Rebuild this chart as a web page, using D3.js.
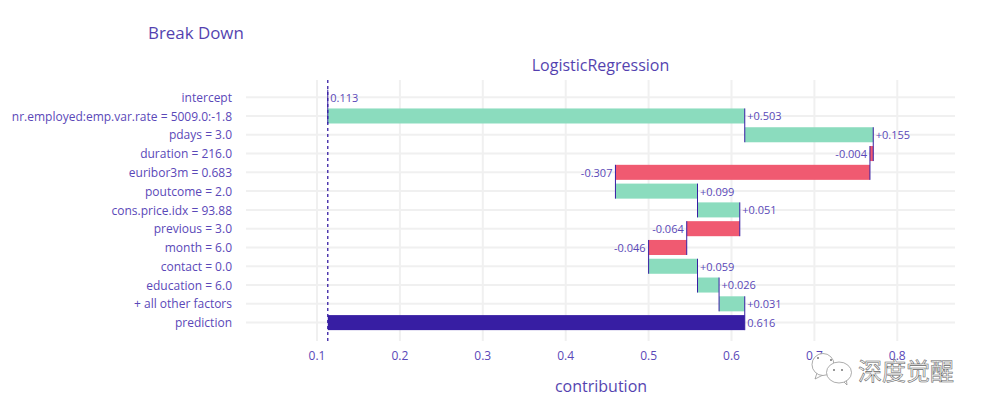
<!DOCTYPE html>
<html><head><meta charset="utf-8">
<script src="https://cdn.jsdelivr.net/npm/d3@7/dist/d3.min.js"></script>
<style>html,body{margin:0;padding:0;background:#fff}svg{display:block}text{font-family:"Open Sans",sans-serif}</style>
</head><body><svg id="c" width="985" height="413"></svg>
<script>
const categories=["intercept","nr.employed:emp.var.rate = 5009.0:-1.8","pdays = 3.0","duration = 216.0","euribor3m = 0.683","poutcome = 2.0","cons.price.idx = 93.88","previous = 3.0","month = 6.0","contact = 0.0","education = 6.0","+ all other factors","prediction"];
const starts=[0.113,0.113,0.616,0.771,0.767,0.46,0.559,0.61,0.546,0.5,0.559,0.585,0.113];
const ends=[0.113,0.616,0.771,0.767,0.46,0.559,0.61,0.546,0.5,0.559,0.585,0.616,0.616];
const labels=["0.113","+0.503","+0.155","-0.004","-0.307","+0.099","+0.051","-0.064","-0.046","+0.059","+0.026","+0.031","0.616"];
const xTicks=[0.1,0.2,0.3,0.4,0.5,0.6,0.7,0.8];
const baseline=0.113;
const ink="#371ea3", tickInk="#5a48b8", grid="#f0f0f0";
const svg=d3.select("#c");
const x=d3.scaleLinear().domain([0.1,0.8]).range([317,897.3]);
const y=d3.scaleBand().domain(categories).range([87.8,332]).paddingInner(0.2).paddingOuter(0.1);
const cy=d=>y(d)+y.bandwidth()/2;
const plotL=246,plotR=955,plotT=80,plotB=341;
const gx=svg.append("g");
gx.selectAll("line").data(xTicks).join("line").attr("x1",x).attr("x2",x).attr("y1",plotT).attr("y2",plotB).attr("stroke",grid).attr("stroke-width",2);
gx.selectAll("text").data(xTicks).join("text").attr("x",x).attr("y",360).attr("text-anchor","middle").attr("font-size",12).attr("fill",tickInk).text(d=>d3.format(".1f")(d));
const gy=svg.append("g");
gy.selectAll("line").data(categories).join("line").attr("x1",plotL).attr("x2",plotR).attr("y1",cy).attr("y2",cy).attr("stroke",grid).attr("stroke-width",2);
gy.selectAll("text").data(categories).join("text").attr("x",232).attr("y",d=>cy(d)+4.6).attr("text-anchor","end").attr("font-size",12).attr("fill",tickInk).text(d=>d);
const rows=categories.map((c,i)=>({c,i,s:starts[i],e:ends[i],l:labels[i]}));
svg.append("g").selectAll("rect").data(rows.filter(r=>r.s!==r.e)).join("rect")
 .attr("x",r=>x(Math.min(r.s,r.e))).attr("width",r=>Math.abs(x(r.e)-x(r.s))).attr("y",r=>y(r.c)).attr("height",y.bandwidth())
 .attr("fill",r=>r.i===12?ink:(r.e>r.s?"#8bdcbe":"#f05a71"));
svg.append("g").selectAll("line").data(rows.slice(0,12)).join("line")
 .attr("x1",r=>x(r.e)).attr("x2",r=>x(r.e)).attr("y1",r=>y(r.c)).attr("y2",r=>y(categories[r.i+1])+y.bandwidth())
 .attr("stroke",ink).attr("stroke-width",1);
svg.append("line").attr("x1",x(baseline)).attr("x2",x(baseline)).attr("y1",plotT).attr("y2",plotB).attr("stroke",ink).attr("stroke-width",1.3).attr("stroke-dasharray","3,3");
svg.append("g").selectAll("text").data(rows).join("text")
 .attr("x",r=>r.e<r.s?x(r.e)-3:x(r.e)+2.5).attr("y",r=>cy(r.c)+4.4)
 .attr("text-anchor",r=>r.e<r.s?"end":"start").attr("font-size",11).attr("fill",tickInk).text(r=>r.l);
svg.append("text").attr("x",148).attr("y",39).attr("font-size",16.9).attr("fill",ink).attr("opacity",.85).text("Break Down");
svg.append("text").attr("x",600.5).attr("y",71).attr("text-anchor","middle").attr("font-size",16).attr("fill",ink).attr("opacity",.85).text("LogisticRegression");
svg.append("text").attr("x",601).attr("y",392).attr("text-anchor","middle").attr("font-size",16).attr("fill",ink).attr("opacity",.85).text("contribution");
// watermark over the axis
const w=svg.append("g").attr("fill","#fff").attr("stroke","#888").attr("stroke-width",.7);
w.append("path").attr("d","M817 373 L815 379 L823 375");
w.append("ellipse").attr("cx",823).attr("cy",364.5).attr("rx",11).attr("ry",11);
w.append("path").attr("d","M842 380 L847 385 L846 377");
w.append("ellipse").attr("cx",839).attr("cy",372.5).attr("rx",12.5).attr("ry",10.5);
const eyes=svg.append("g").attr("fill","#777");
[[818,358],[831,360],[834,370],[842,370]].forEach(p=>eyes.append("circle").attr("cx",p[0]).attr("cy",p[1]).attr("r",1));
svg.append("text").attr("x",858).attr("y",380).attr("font-size",24).attr("style",'font-family:"Noto Sans CJK SC"').attr("fill","#f4f4f4").attr("stroke","#666").attr("stroke-width",.55).text("深度觉醒");
</script></body></html>
